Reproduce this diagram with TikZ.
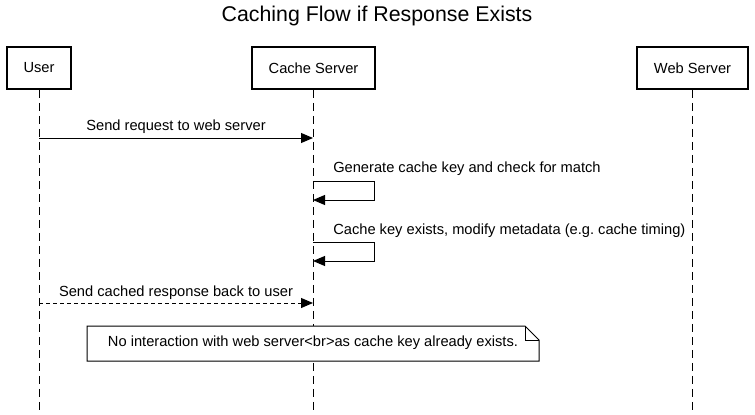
\documentclass[tikz,border=0pt]{standalone}
\usepackage{fontspec}
\setmainfont{Liberation Sans}
\usepackage{tikz}
\usetikzlibrary{arrows.meta,positioning,calc}

\tikzset{
    actor/.style={draw, very thick, minimum height=31.5pt, inner sep=0pt, font=\fontsize{11}{13}\selectfont},
    lifeline/.style={draw=black, line width=0.75pt, dash pattern=on 6pt off 3.75pt},
    msg/.style={line width=0.75pt, -{Triangle[length=9pt,width=7.5pt]}},
    reply/.style={msg, dash pattern=on 3pt off 2.25pt},
    msglabel/.style={font=\fontsize{11}{13}\selectfont, inner sep=0pt}
}

\begin{document}
\begin{tikzpicture}[x=0.75pt, y=-0.75pt]
    \useasboundingbox (0,0) rectangle (755,414);

    % Title
    \node[font=\fontsize{16}{19}\selectfont] (title) at (377,16) {Caching Flow if Response Exists};

    % Actors
    \foreach \name/\cx/\w/\label in {user/39/64/User, cache/313.5/123/Cache Server, web/692.5/111/Web Server} {
        \node[actor, minimum width=\w*0.75pt] (\name) at (\cx,68) {\label};
        \coordinate (\name-end) at (\cx,414);
        \draw[lifeline] (\name.south) -- (\name-end);
    }

    % Messages
    \coordinate (u1) at (39,138);
    \coordinate (c1) at (313,138);
    \draw[msg] (u1) -- (c1);
    \node[msglabel] (m1) at (176,127) {Send request to web server};

    \coordinate (c2) at (313,181);
    \coordinate (c2b) at (313,200);
    \draw[msg] (c2) -- ++(61,0) |- (c2b);
    \node[msglabel, anchor=west] (m2) at (333,169) {Generate cache key and check for match};

    \coordinate (c3) at (313,242);
    \coordinate (c3b) at (313,261);
    \draw[msg] (c3) -- ++(61,0) |- (c3b);
    \node[msglabel, anchor=west] (m3) at (333,231) {Cache key exists, modify metadata (e.g.\ cache timing)};

    \coordinate (u4) at (39,303);
    \coordinate (c4) at (313,303);
    \draw[reply] (u4) -- (c4);
    \node[msglabel] (m4) at (176,293) {Send cached response back to user};

    % Note
    \filldraw[fill=white, line width=0.75pt] (87,326) -- (525,326) -- (539,340) -- (539,361) -- (87,361) -- cycle;
    \draw[line width=0.75pt] (525,326) -- (525,340) -- (539,340);
    \node[msglabel] (note) at (313,343) {No interaction with web server\textless br\textgreater as cache key already exists.};
\end{tikzpicture}
\end{document}
